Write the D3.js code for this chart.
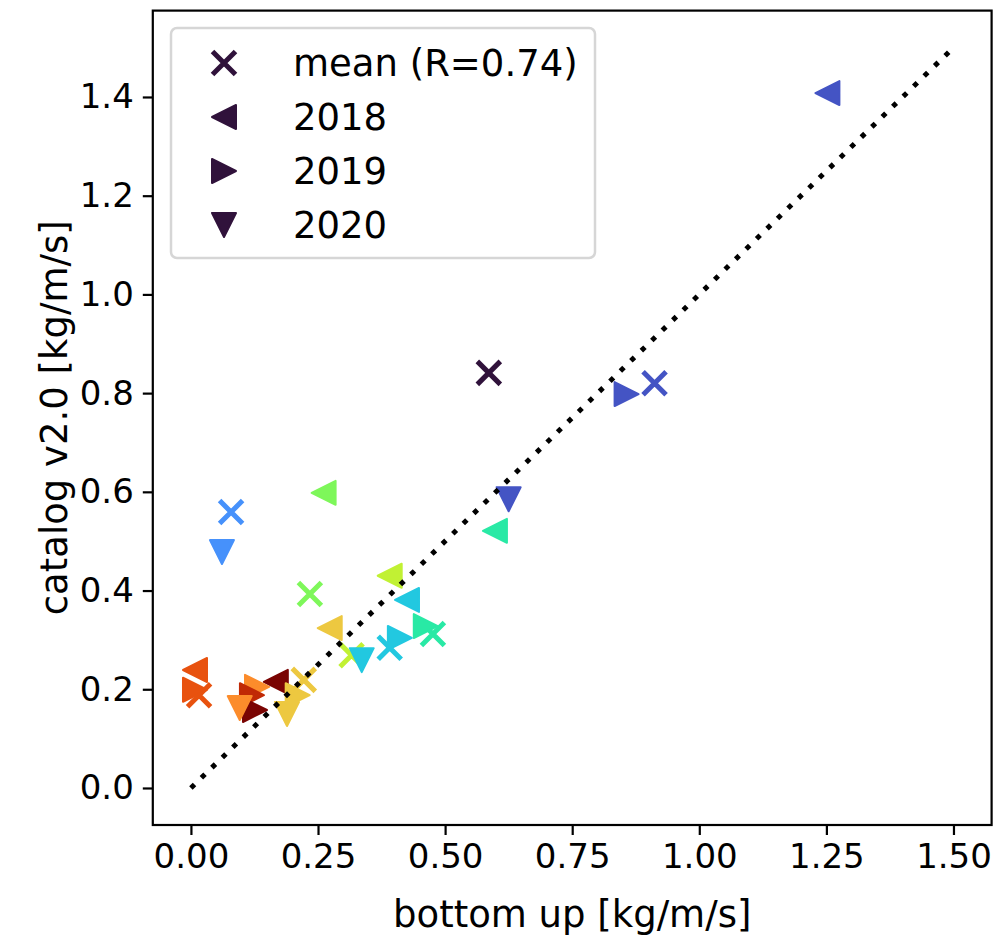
<!DOCTYPE html>
<html>
<head>
<meta charset="utf-8">
<script src="https://cdn.jsdelivr.net/npm/d3@7"></script>
<style>
    body { margin: 0; background: #fff; }
    svg text { font-family: "DejaVu Sans", sans-serif; fill: #000; }
</style>
</head>
<body>
<div id="chartDiv"></div>
<script>
// one entry per site, null where that year (or mean) is missing
let meanX = [0.586, 0.912, 0.079, 0.391, 0.476, 0.234, 0.316, 0.222, null, 0.016, null, null];
let meanY = [0.841, 0.820, 0.559, 0.284, 0.312, 0.393, 0.269, 0.219, null, 0.188, null, null];
let x2018 = [null, 1.252, null, 0.425, 0.598, 0.261, 0.391, 0.273, null, 0.008, null, 0.167];
let y2018 = [null, 1.408, null, 0.381, 0.521, 0.598, 0.430, 0.324, null, 0.239, null, 0.215];
let x2019 = [null, 0.857, null, 0.411, 0.462, null, null, 0.210, 0.130, 0.008, 0.120, 0.126];
let y2019 = [null, 0.798, null, 0.304, 0.328, null, null, 0.188, 0.205, 0.199, 0.188, 0.158];
let x2020 = [null, 0.625, 0.061, 0.336, null, null, null, 0.189, 0.096, null, null, null];
let y2020 = [null, 0.585, 0.478, 0.259, null, null, null, 0.150, 0.162, null, null, null];

let legendLabels = ['mean (R=0.74)', '2018', '2019', '2020'];
let xTicks = [0, 0.25, 0.5, 0.75, 1.0, 1.25, 1.5];
let yTicks = [0, 0.2, 0.4, 0.6, 0.8, 1.0, 1.2, 1.4];
let oneToOne = [0, 1.5];

// turbo-like colours, one per site
let colors = ['#30123b', '#4454c4', '#4691fb', '#22c8e0', '#29e9a5', '#7ef75a',
              '#c1f133', '#edc840', '#fc8c2b', '#e8520f', '#c02905', '#7a0403'];

let width = 997, height = 939;
let tickFont = 34, labelFont = 37;

let svg = d3.select('#chartDiv')
    .append('svg')
    .attr('width', width)
    .attr('height', height);

let xScale = d3.scaleLinear().domain([-0.075, 1.575]).range([152.8, 991.6]);
let yScale = d3.scaleLinear().domain([-0.075, 1.575]).range([825, 10.6]);

// marker shapes, centred on 0,0
let tri = 12;
let shapes = {
    left:  'M' + (-tri) + ',0L' + tri + ',' + (-tri) + 'L' + tri + ',' + tri + 'Z',
    right: 'M' + tri + ',0L' + (-tri) + ',' + (-tri) + 'L' + (-tri) + ',' + tri + 'Z',
    down:  'M0,' + tri + 'L' + (-tri) + ',' + (-tri) + 'L' + tri + ',' + (-tri) + 'Z',
    cross: 'M-11.5,-11.5L11.5,11.5M-11.5,11.5L11.5,-11.5'
};

let drawMarker = function(sel, shape, color) {
    if (shape === 'cross') {
        sel.append('path').attr('d', shapes.cross)
            .attr('fill', 'none').attr('stroke', color)
            .attr('stroke-width', 5);
    } else {
        sel.append('path').attr('d', shapes[shape])
            .attr('fill', color).attr('stroke', color)
            .attr('stroke-width', 2).attr('stroke-linejoin', 'round');
    }
};

let series = [
    {xs: meanX, ys: meanY, shape: 'cross'},
    {xs: x2018, ys: y2018, shape: 'left'},
    {xs: x2019, ys: y2019, shape: 'right'},
    {xs: x2020, ys: y2020, shape: 'down'}
];

let plot = svg.append('g').attr('class', 'points');
series.forEach(function(s) {
    s.xs.forEach(function(xv, i) {
        if (xv === null || s.ys[i] === null) return;
        let g = plot.append('g')
            .attr('transform', 'translate(' + xScale(xv) + ',' + yScale(s.ys[i]) + ')');
        drawMarker(g, s.shape, colors[i]);
    });
});

// 1:1 line, dotted, on top of the markers
svg.append('path')
    .datum(oneToOne)
    .attr('fill', 'none')
    .attr('stroke', '#000')
    .attr('stroke-width', 5)
    .attr('stroke-dasharray', '5,9.6')
    .attr('d', d3.line()
        .x(function(d) {return xScale(d)})
        .y(function(d) {return yScale(d)}));

// axes
let xAxis = svg.append('g')
    .attr('transform', 'translate(0,825)')
    .call(d3.axisBottom(xScale).tickValues(xTicks).tickFormat(d3.format('.2f'))
        .tickSize(10).tickPadding(9).tickSizeOuter(0));
let yAxis = svg.append('g')
    .attr('transform', 'translate(152.8,0)')
    .call(d3.axisLeft(yScale).tickValues(yTicks).tickFormat(d3.format('.1f'))
        .tickSize(10).tickPadding(9).tickSizeOuter(0));
[xAxis, yAxis].forEach(function(a) {
    a.select('.domain').remove();
    a.selectAll('line').attr('stroke', '#000').attr('stroke-width', 2.2);
    a.selectAll('text').style('font-size', tickFont + 'px');
});

svg.append('rect')
    .attr('x', 152.8).attr('y', 10.6)
    .attr('width', 991.6 - 152.8).attr('height', 825 - 10.6)
    .attr('fill', 'none').attr('stroke', '#000').attr('stroke-width', 2.2);

// axis titles
svg.append('text')
    .attr('x', (152.8 + 991.6) / 2).attr('y', 927)
    .attr('text-anchor', 'middle')
    .style('font-size', labelFont + 'px')
    .text('bottom up [kg/m/s]');
svg.append('text')
    .attr('transform', 'translate(67,' + (825 + 10.6) / 2 + ') rotate(-90)')
    .attr('text-anchor', 'middle')
    .style('font-size', labelFont + 'px')
    .text('catalog v2.0 [kg/m/s]');

// legend
let legend = svg.append('g').attr('class', 'legend');
legend.append('rect')
    .attr('x', 171).attr('y', 28).attr('width', 424).attr('height', 230)
    .attr('rx', 6)
    .attr('fill', '#fff').attr('fill-opacity', 0.8)
    .attr('stroke', '#d6d6d6').attr('stroke-width', 2.5);
let legendShapes = ['cross', 'left', 'right', 'down'];
legendLabels.forEach(function(lab, i) {
    let cy = 63 + i * 54;
    let g = legend.append('g').attr('transform', 'translate(224,' + cy + ')');
    drawMarker(g, legendShapes[i], colors[0]);
    legend.append('text')
        .attr('x', 293).attr('y', cy + 13)
        .style('font-size', labelFont + 'px')
        .text(lab);
});
</script>
</body>
</html>
